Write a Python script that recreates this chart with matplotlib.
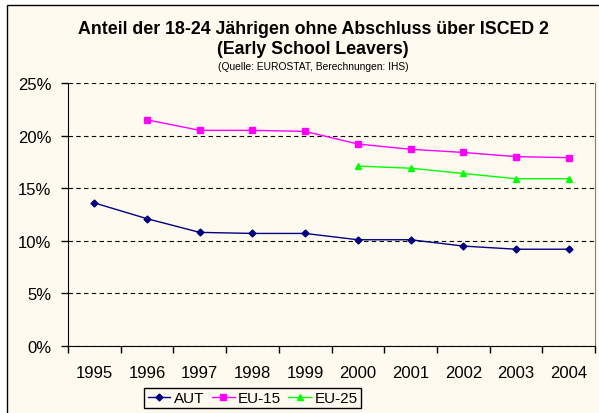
import matplotlib.pyplot as plt
from matplotlib.patches import Rectangle
import numpy as np

years = ['1995', '1996', '1997', '1998', '1999', '2000', '2001', '2002', '2003', '2004']
aut = [13.6, 12.1, 10.8, 10.7, 10.7, 10.1, 10.1, 9.5, 9.2, 9.2]
eu15 = [None, 21.5, 20.5, 20.5, 20.4, 19.2, 18.7, 18.4, 18.0, 17.9]
eu25 = [None, None, None, None, None, 17.1, 16.9, 16.4, 15.9, 15.9]

plt.rcParams['font.family'] = 'Liberation Sans'
bg = '#FFFAEF'

def arr(v):
    return np.array([np.nan if a is None else a for a in v], dtype=float)

fig = plt.figure(figsize=(5.99, 4.14), dpi=100)
fig.patch.set_facecolor('white')
# chart area with black frame on top and left (rest runs off the picture)
fig.patches.append(Rectangle((7 / 599, -0.1), 1.0, 1 - 6 / 414 + 0.1,
                             transform=fig.transFigure, facecolor=bg,
                             edgecolor='black', linewidth=1.0, zorder=-5))

ax = fig.add_axes([68 / 599, 1 - 347 / 414, 527 / 599, 263 / 414])
ax.set_zorder(2)
ax.set_facecolor(bg)

x = np.arange(len(years))
ax.plot(x, arr(aut), color='#000080', marker='D', markersize=3.5, linewidth=1.0, label='AUT')
ax.plot(x, arr(eu15), color='#FF00FF', marker='s', markersize=4.5, linewidth=1.0, label='EU-15')
ax.plot(x, arr(eu25), color='#00FF00', marker='^', markersize=5, linewidth=1.0, label='EU-25')

ax.set_xlim(-0.5, len(years) - 0.5)
ax.set_ylim(0, 25)
ax.set_yticks([0, 5, 10, 15, 20, 25])
ax.set_yticklabels(['0%', '5%', '10%', '15%', '20%', '25%'], fontsize=12)
ax.set_xticks(x)
ax.set_xticklabels(years, fontsize=12)
ax.set_xticks(np.arange(-0.5, len(years)), minor=True)
ax.tick_params(axis='x', which='major', length=0, pad=14)
ax.tick_params(axis='x', which='minor', length=5, width=1, direction='out')
ax.tick_params(axis='y', length=5, width=1, direction='out', pad=7)

ax.yaxis.grid(True, color='black', linestyle=(0, (4, 3)), linewidth=0.8)
ax.set_axisbelow(True)
ax.spines['top'].set_visible(False)
ax.spines['right'].set_color('#808080')

fig.text(313 / 599, 1 - 30 / 414, 'Anteil der 18-24 Jährigen ohne Abschluss über ISCED 2',
         ha='center', va='center', fontsize=12.8, fontweight='bold')
fig.text(313 / 599, 1 - 50 / 414, '(Early School Leavers)',
         ha='center', va='center', fontsize=12.8, fontweight='bold')
fig.text(313 / 599, 1 - 67 / 414, '(Quelle: EUROSTAT, Berechnungen: IHS)',
         ha='center', va='center', fontsize=7.4)

leg = fig.legend(loc='upper center', bbox_to_anchor=(252.5 / 599, 1 - 389 / 414),
                 ncol=3, fontsize=11, frameon=True, fancybox=False,
                 handlelength=1.5, handletextpad=0.2, columnspacing=0.5,
                 borderpad=0.2, borderaxespad=0)
leg.get_frame().set_edgecolor('black')
leg.get_frame().set_facecolor(bg)
leg.get_frame().set_linewidth(1.0)
leg.get_frame().set_alpha(1)

fig.savefig('out.png', dpi=100, facecolor='white')
